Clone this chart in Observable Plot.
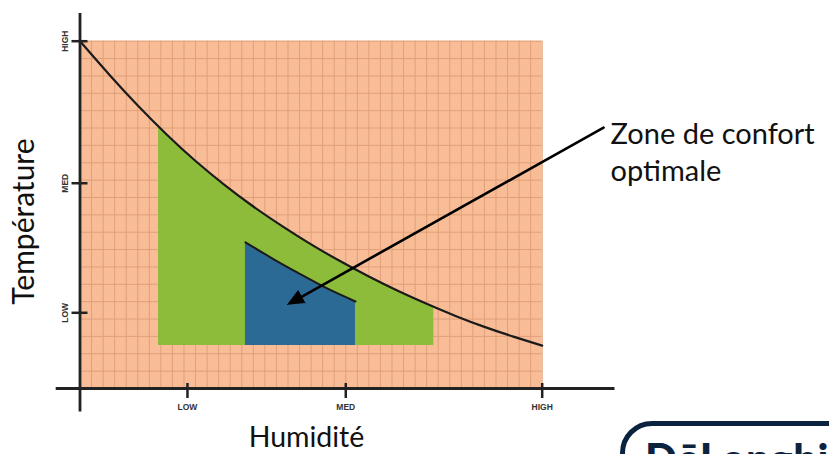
<!DOCTYPE html>
<html>
<head>
<meta charset="utf-8">
<script src="https://cdn.jsdelivr.net/npm/d3@7"></script>
<script src="https://cdn.jsdelivr.net/npm/@observablehq/plot@0.6"></script>
<style>
  html, body { margin: 0; padding: 0; background: #fff; }
  #wrap { position: relative; width: 829px; height: 454px; overflow: hidden; }
  #logo { position: absolute; left: 620px; top: 421px; width: 320px; height: 90px;
          border: 5px solid #0c2340; border-radius: 32px; box-sizing: border-box; }
  #logoText { position: absolute; left: 645px; top: 437px; font-family: Lato, sans-serif;
          font-weight: 900; font-size: 42px; line-height: 1; color: #0c2340; letter-spacing: 0.5px; }
</style>
</head>
<body>
<div id="wrap">
  <div id="chart"></div>
  <div id="logo"></div>
  <div id="logoText">DēLonghi</div>
</div>
<script>
// ---- data (arbitrary humidity / temperature units) ----
const xTicks = [9.3, 23, 40];
const xTickLabels = ["LOW", "MED", "HIGH"];
const yTicks = [4.36, 11.82, 20];
const yTickLabels = ["LOW", "MED", "HIGH"];

// comfort limit curve
const curveX = [0, 2.5, 5, 7.5, 10, 12.5, 15, 17.5, 20, 22.5, 25, 27.5, 30, 32.5, 35, 37.5, 40];
const curveY = [20, 18.1, 16.3, 14.63, 13.1, 11.73, 10.48, 9.35, 8.3, 7.34, 6.45, 5.63, 4.88, 4.18, 3.55, 2.99, 2.47];

// green zone
const greenX = [6.8, 7.5, 10, 12.5, 15, 17.5, 20, 22.5, 25, 27.5, 30, 30.62];
const greenTop = [15.07, 14.63, 13.1, 11.73, 10.48, 9.35, 8.3, 7.34, 6.45, 5.63, 4.88, 4.71];
const greenBase = 2.47;

// blue (optimal) zone
const blueX = [14.32, 16.77, 19.08, 21.39, 23.84];
const blueTop = [8.42, 7.44, 6.58, 5.76, 5.01];
const blueBase = 2.47;

// annotation arrow
const arrowFrom = [45.31, 15.02];
const arrowTo = [17.96, 4.83];
const annotation = "Zone de confort\noptimale";

// axis extents
const xAxisExtent = [-2.06, 46.3];
const yAxisExtent = [-1.36, 21.6];

const xTitle = "Humidité";
const yTitle = "Température";

// ---- build ----
const xDomain = [0, 40], xRange = [79.5, 541.7];
const yDomain = [0, 20], yRange = [388, 40.7];
const xs = d3.scaleLinear(xDomain, xRange);
const ys = d3.scaleLinear(yDomain, yRange);

const curve = curveX.map((x, i) => ({x, y: curveY[i]}));
const green = greenX.map((x, i) => ({x, top: greenTop[i]}));
const blue = blueX.map((x, i) => ({x, top: blueTop[i]}));

// arrow head (filled triangle) computed in pixel space then mapped back
const sx = xs(arrowFrom[0]), sy = ys(arrowFrom[1]);
const tx = xs(arrowTo[0]), ty = ys(arrowTo[1]);
const len = Math.hypot(tx - sx, ty - sy);
const ux = (tx - sx) / len, uy = (ty - sy) / len;
const headLen = 16, headHalf = 7;
const bx = tx - ux * headLen, by = ty - uy * headLen;
const nx = -uy, ny = ux;
const head = [
  {x: xs.invert(tx), y: ys.invert(ty)},
  {x: xs.invert(bx + nx * headHalf), y: ys.invert(by + ny * headHalf)},
  {x: xs.invert(bx - nx * headHalf), y: ys.invert(by - ny * headHalf)}
];
const shaft = [
  {x: arrowFrom[0], y: arrowFrom[1]},
  {x: xs.invert(bx + ux * 2), y: ys.invert(by + uy * 2)}
];

const gridColor = "#E09F78";
const axisColor = "#222";

const chart = Plot.plot({
  width: 829,
  height: 454,
  x: {domain: xDomain, range: xRange, axis: null},
  y: {domain: yDomain, range: yRange, axis: null},
  style: {background: "transparent", fontFamily: "Lato, sans-serif", overflow: "visible"},
  marks: [
    Plot.rect([0], {x1: 0, x2: 40, y1: 0, y2: 20, fill: "#F8BD97"}),
    Plot.ruleX(d3.range(0, 41), {y1: 0, y2: 20, stroke: gridColor, strokeWidth: 1}),
    Plot.ruleY(d3.range(0, 21), {x1: 0, x2: 40, stroke: gridColor, strokeWidth: 1}),
    Plot.areaY(green, {x: "x", y1: greenBase, y2: "top", fill: "#8DBB3A", curve: "natural"}),
    Plot.areaY(blue, {x: "x", y1: blueBase, y2: "top", fill: "#2C6A96", curve: "natural"}),
    Plot.line(blue, {x: "x", y: "top", stroke: "#1b1b1b", strokeWidth: 2, curve: "natural"}),
    Plot.line(curve, {x: "x", y: "y", stroke: "#1b1b1b", strokeWidth: 2.2, curve: "natural"}),
    // axes
    Plot.ruleY([0], {x1: xAxisExtent[0], x2: xAxisExtent[1], stroke: axisColor, strokeWidth: 2.8}),
    Plot.ruleX([0], {y1: yAxisExtent[0], y2: yAxisExtent[1], stroke: axisColor, strokeWidth: 2.8}),
    // tick marks
    Plot.ruleX(xTicks, {x: d => d, y1: 0, y2: 0, insetBottom: -10, insetTop: -5, stroke: axisColor, strokeWidth: 2.5}),
    Plot.ruleY(yTicks, {y: d => d, x1: 0, x2: 0, insetLeft: -8, insetRight: -8, stroke: axisColor, strokeWidth: 2.5}),
    // tick labels
    Plot.text(xTicks, {x: d => d, y: 0, text: (d, i) => xTickLabels[i], dy: 19, fontSize: 8.5, fontWeight: "bold",
      fontFamily: "Liberation Sans, Arial, sans-serif", fill: "#333", lineAnchor: "middle"}),
    Plot.text(yTicks, {x: 0, y: d => d, text: (d, i) => yTickLabels[i], dx: -14.5, rotate: -90, fontSize: 8.5, fontWeight: "bold",
      fontFamily: "Liberation Sans, Arial, sans-serif", fill: "#333", lineAnchor: "middle"}),
    // axis titles
    Plot.text([xTitle], {x: 19.6, y: 0, dy: 49, fontSize: 28.5, fill: "#111", lineAnchor: "middle"}),
    Plot.text([yTitle], {x: 0, y: 9.61, dx: -56, rotate: -90, fontSize: 30, fill: "#111", lineAnchor: "middle"}),
    // annotation
    Plot.line(shaft, {x: "x", y: "y", stroke: "#000", strokeWidth: 2.6}),
    Plot.line(head, {x: "x", y: "y", fill: "#000", stroke: "#000", strokeWidth: 1, strokeLinejoin: "miter"}),
    Plot.text([annotation], {x: arrowFrom[0], y: arrowFrom[1], dx: 7, dy: -9.3, textAnchor: "start", lineAnchor: "top",
      lineHeight: 1.265, fontSize: 29, fill: "#111"})
  ]
});
document.getElementById("chart").appendChild(chart);
</script>
</body>
</html>
